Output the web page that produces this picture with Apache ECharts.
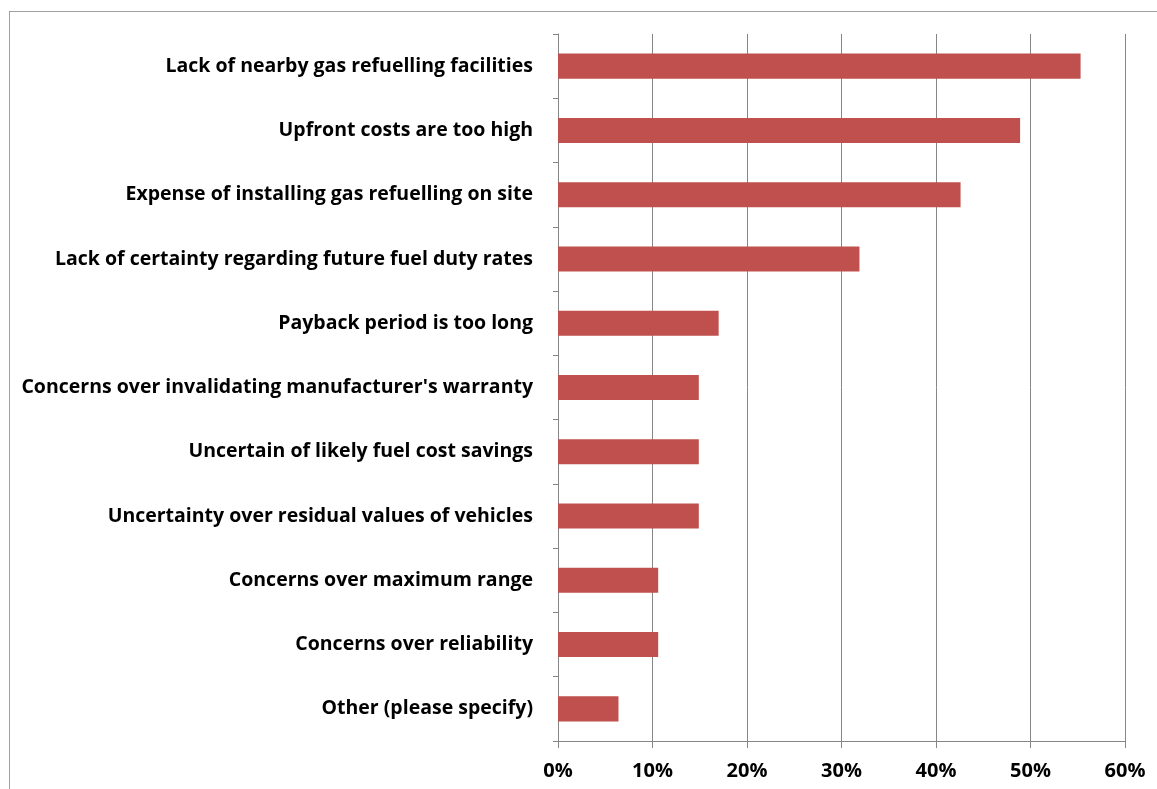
<!DOCTYPE html>
<html><head><meta charset="utf-8">
<script src="https://cdn.jsdelivr.net/npm/echarts@6/dist/echarts.min.js"></script>
<style>html,body{margin:0;padding:0;background:#fff}
#frame{position:absolute;left:9px;top:11px;width:1160px;height:800px;border:1px solid #a0a0a0;box-sizing:border-box}
#c{position:absolute;left:0;top:0;width:1157px;height:789px}</style>
</head><body><div id="frame"></div><div id="c"></div>
<script>
const categories = [
  "Lack of nearby gas refuelling facilities",
  "Upfront costs are too high",
  "Expense of installing gas refuelling on site",
  "Lack of certainty regarding future fuel duty rates",
  "Payback period is too long",
  "Concerns over invalidating manufacturer's warranty",
  "Uncertain of likely fuel cost savings",
  "Uncertainty over residual values of vehicles",
  "Concerns over maximum range",
  "Concerns over reliability",
  "Other (please specify)"
];
const values = [55.3, 48.9, 42.6, 31.9, 17.0, 14.9, 14.9, 14.9, 10.6, 10.6, 6.4];
const xTicks = [0, 10, 20, 30, 40, 50, 60];

const chart = echarts.init(document.getElementById('c'));
const font = '"Open Sans", sans-serif';
chart.setOption({
  animation: false,
  grid: {left: 558, right: 32, top: 34, bottom: 48, containLabel: false},
  xAxis: {
    type: 'value', min: 0, max: 60, interval: 10,
    axisLine: {show: true, lineStyle: {color: '#868686', width: 1}},
    axisTick: {show: true, length: 7, inside: false, lineStyle: {color: '#868686'}},
    splitLine: {show: true, lineStyle: {color: '#868686', width: 1}},
    axisLabel: {formatter: v => xTicks.includes(v) ? v + '%' : '', color: '#000', fontFamily: font, fontWeight: 'bold', fontSize: 20, margin: 20}
  },
  yAxis: {
    type: 'category', data: categories, inverse: true,
    axisLine: {show: true, lineStyle: {color: '#868686'}},
    axisTick: {show: true, length: 5, lineStyle: {color: '#868686'}},
    axisLabel: {color: '#000', fontFamily: font, fontWeight: 'bold', fontSize: 19.5, margin: 25}
  },
  series: [{
    type: 'bar', data: values, barCategoryGap: '61%',
    itemStyle: {color: '#C0504D'}
  }]
});
</script></body></html>
